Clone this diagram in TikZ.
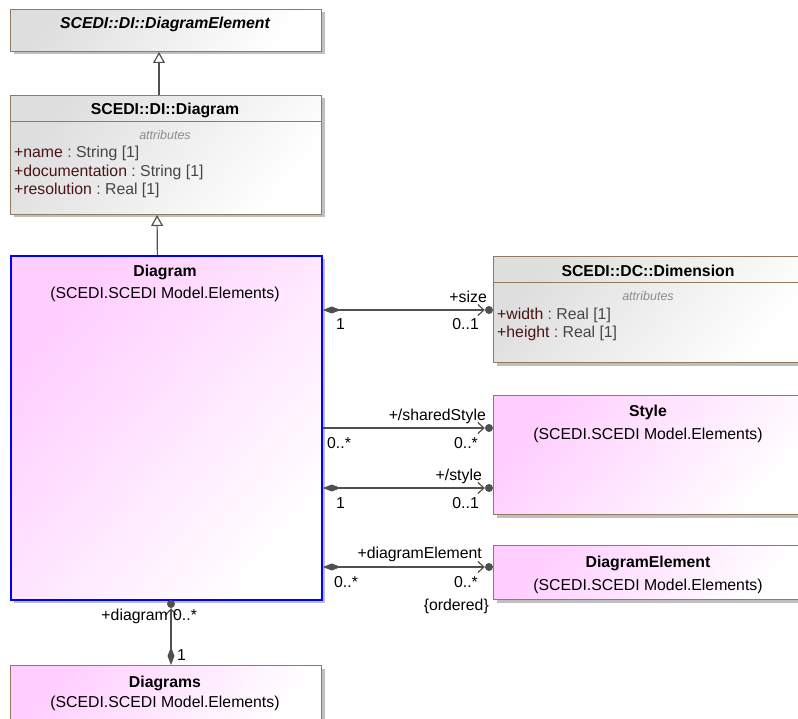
\documentclass[tikz,border=0pt]{standalone}
\usepackage{fontspec}
\setmainfont{Liberation Sans}
\usetikzlibrary{arrows.meta, shadows}
\usetikzlibrary{positioning}

\definecolor{box_border}{RGB}{150,120,95}
\definecolor{pink_fill}{RGB}{255,205,255}
\definecolor{gray_fill}{RGB}{222,222,222}
\definecolor{line_gray}{RGB}{80,80,80}
\definecolor{attr_name}{RGB}{75,20,20}
\definecolor{attr_type}{RGB}{70,70,70}

\newcommand{\umlsize}{\fontsize{15.8}{18}\selectfont}

\tikzstyle{gray_class} = [
    draw=box_border,
    line width=1pt,
    top color=gray_fill,
    bottom color=white,
    shading angle=50,
    drop shadow={shadow xshift=3pt, shadow yshift=-3pt, fill=black!50, opacity=0.5},
    anchor=north west,
    inner sep=0pt,
    minimum width=311pt
]
\tikzstyle{pink_class} = [
    gray_class,
    top color=pink_fill,
    bottom color=white,
    shading angle=50
]
\tikzstyle{title} = [
    font=\umlsize\bfseries,
    anchor=base,
    inner sep=0pt
]
\tikzstyle{sub_title} = [
    font=\umlsize,
    anchor=base,
    inner sep=0pt
]
\tikzstyle{attr} = [
    font=\umlsize,
    anchor=base west,
    inner sep=0pt
]
\tikzstyle{compartment} = [
    font=\fontsize{12.5}{14}\selectfont\itshape,
    text=black!45,
    anchor=base,
    inner sep=0pt
]
\tikzstyle{end_dot} = [
    circle,
    fill=line_gray,
    inner sep=0pt,
    minimum size=8pt
]
\tikzstyle{end_label} = [
    font=\umlsize,
    inner sep=0pt
]
\tikzstyle{assoc} = [
    draw=line_gray,
    line width=1.2pt,
    -{Straight Barb[length=6pt, width=11pt]}
]
\tikzstyle{comp_assoc} = [
    assoc,
    {Diamond[length=18pt, width=7pt]}-{Straight Barb[length=6pt, width=11pt]}
]
\tikzstyle{generalization} = [
    draw=line_gray,
    line width=1.2pt,
    -{Triangle[open, length=11pt, width=12pt, fill=white]}
]

\begin{document}
\begin{tikzpicture}[x=1pt, y=-1pt]
\useasboundingbox (0,0) rectangle (798,719);

% left column
\node [gray_class, minimum height=42pt] (di_diagram_element) at (10,9) {};
\node [title, font=\umlsize\bfseries\itshape] (di_diagram_element_title) at (165,29) {SCEDI::DI::DiagramElement};

\node [gray_class, minimum height=119pt] (di_diagram) at (10,95) {};
\draw [box_border, line width=1pt] (di_diagram.west |- 0,122) -- (di_diagram.east |- 0,122);
\node [title] (di_diagram_title) at (165,115) {SCEDI::DI::Diagram};
\node [compartment] (di_diagram_attrs) at (165,140) {attributes};
\node [attr] (attr_name) at (14,158) {\textcolor{attr_name}{+name}\textcolor{attr_type}{\ :\ String [1]}};
\node [attr] (attr_doc) at (14,176.5) {\textcolor{attr_name}{+documentation}\textcolor{attr_type}{\ :\ String [1]}};
\node [attr] (attr_res) at (14,195) {\textcolor{attr_name}{+resolution}\textcolor{attr_type}{\ :\ Real [1]}};

\node [pink_class, draw=blue, line width=1.8pt, minimum height=344pt] (diagram) at (10,255) {};
\node [title] (diagram_title) at (165,277) {Diagram};
\node [sub_title] (diagram_pkg) at (165,299) {(SCEDI.SCEDI Model.Elements)};

\node [pink_class, minimum height=60pt] (diagrams) at (10,665) {};
\node [title] (diagrams_title) at (165,687) {Diagrams};
\node [sub_title] (diagrams_pkg) at (165,707) {(SCEDI.SCEDI Model.Elements)};

% right column
\node [gray_class, minimum height=106pt] (dimension) at (493,256) {};
\draw [box_border, line width=1pt] (dimension.west |- 0,283) -- (dimension.east |- 0,283);
\node [title] (dimension_title) at (648,277) {SCEDI::DC::Dimension};
\node [compartment] (dimension_attrs) at (648,301) {attributes};
\node [attr] (attr_width) at (497,320) {\textcolor{attr_name}{+width}\textcolor{attr_type}{\ :\ Real [1]}};
\node [attr] (attr_height) at (497,337.5) {\textcolor{attr_name}{+height}\textcolor{attr_type}{\ :\ Real [1]}};

\node [pink_class, minimum height=119pt] (style) at (493,395) {};
\node [title] (style_title) at (648,416) {Style};
\node [sub_title] (style_pkg) at (648,439) {(SCEDI.SCEDI Model.Elements)};

\node [pink_class, minimum height=54pt] (diagram_element) at (493,545) {};
\node [title] (diagram_element_title) at (648,567) {DiagramElement};
\node [sub_title] (diagram_element_pkg) at (648,590) {(SCEDI.SCEDI Model.Elements)};

% generalizations
\draw [generalization] ([xshift=-7pt]di_diagram.north) -- ([xshift=-7pt]di_diagram_element.south);
\draw [generalization] ([xshift=-9pt]diagram.north) -- ([xshift=-9pt]di_diagram.south);

% association ends
\node [end_dot] (size_dot) at (489,310) {};
\node [end_dot] (shared_dot) at (489,428) {};
\node [end_dot] (style_dot) at (489,488) {};
\node [end_dot] (element_dot) at (489,567) {};
\node [end_dot] (diagram_dot) at (171,604) {};

\draw [comp_assoc] (size_dot -| diagram.east) -- (size_dot.west);
\draw [assoc] (shared_dot -| diagram.east) -- (shared_dot.west);
\draw [comp_assoc] (style_dot -| diagram.east) -- (style_dot.west);
\draw [comp_assoc] (element_dot -| diagram.east) -- (element_dot.west);
\draw [comp_assoc] (diagram_dot |- diagrams.north) -- (diagram_dot.south);

% labels
\node [end_label, anchor=base east] (size_role) at (487,303) {+size};
\node [end_label, anchor=base west] (size_src) at (336,330) {1};
\node [end_label, anchor=base east] (size_mult) at (479,330) {0..1};

\node [end_label, anchor=base east] (shared_role) at (486,420) {+/sharedStyle};
\node [end_label, anchor=base west] (shared_src) at (327,448) {0..*};
\node [end_label, anchor=base east] (shared_mult) at (478,448) {0..*};

\node [end_label, anchor=base east] (style_role) at (482,480) {+/style};
\node [end_label, anchor=base west] (style_src) at (336,508) {1};
\node [end_label, anchor=base east] (style_mult) at (479,508) {0..1};

\node [end_label, anchor=base east] (element_role) at (482,558) {+diagramElement};
\node [end_label, anchor=base west] (element_src) at (334,587) {0..*};
\node [end_label, anchor=base east] (element_mult) at (478,587) {0..*};
\node [end_label, anchor=base east] (element_order) at (489,610) {\{ordered\}};

\node [end_label, anchor=base east] (diagram_role) at (168,620) {+diagram};
\node [end_label, anchor=base west] (diagram_mult) at (173,620) {0..*};
\node [end_label, anchor=base west] (diagram_src) at (177,660) {1};
\end{tikzpicture}
\end{document}
